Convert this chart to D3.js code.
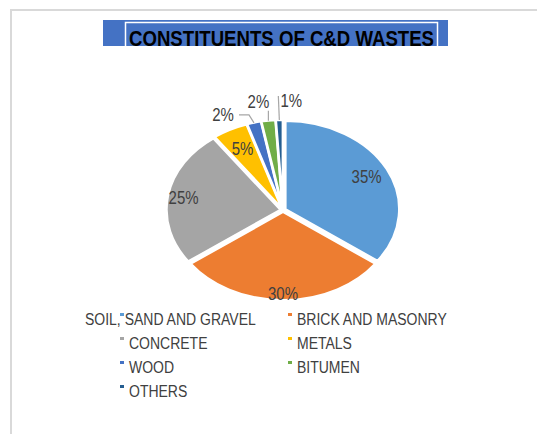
<!DOCTYPE html>
<html>
<head>
<meta charset="utf-8">
<script src="https://cdn.jsdelivr.net/npm/d3@7"></script>
<style>
  body { margin: 0; background: #fff; }
  svg { display: block; }
</style>
</head>
<body>
<script>
// chart data
var categories = ["SOIL, SAND AND GRAVEL", "BRICK AND MASONRY", "CONCRETE", "METALS", "WOOD", "BITUMEN", "OTHERS"];
var values = [35, 30, 25, 5, 2, 2, 1];
var labels = ["35%", "30%", "25%", "5%", "2%", "2%", "1%"];
var colours = ["#5B9BD5", "#ED7D31", "#A5A5A5", "#FFC000", "#4472C4", "#70AD47", "#255E91"];

var w = 537, h = 434;
var cx = 283, cy = 210;
var r = 88, sx = 114 / 88;   // pie is stretched sideways
var explode = 2;
var tall = 1.18;             // text in the original is a bit taller than wide

// label placement: inside labels use a radius factor, the small ones sit outside
var labelRadius = [0.8, 0.93, 0.86, 0.76, null, null, null];
var outside = {
    4: {leader: [[-5, -8], [-15, -8]], text: [-31, -2]},
    5: {leader: [[0, -10]], text: [-10, -13]},
    6: {leader: [[-1, -24]], text: [12, -13]}
};

var svg = d3.select("body")
            .append("svg")
            .attr("width", w)
            .attr("height", h);

// outer frame
svg.append("path")
   .attr("d", "M11,434 V10 H537")
   .attr("fill", "none")
   .attr("stroke", "#d9d9d9")
   .attr("stroke-width", 2);

// title
svg.append("rect")
   .attr("x", 103).attr("y", 20)
   .attr("width", 345).attr("height", 26)
   .attr("fill", "#4472C4");
svg.append("rect")
   .attr("x", 125.5).attr("y", 22.5)
   .attr("width", 312).attr("height", 26)
   .attr("fill", "#4472C4")
   .attr("stroke", "#fff")
   .attr("stroke-width", 1.5);
svg.append("rect")
   .attr("x", 100).attr("y", 46)
   .attr("width", 350).attr("height", 8)
   .attr("fill", "#fff");

var clip = svg.append("clipPath").attr("id", "titleclip");
clip.append("rect").attr("x", 100).attr("y", 15).attr("width", 350).attr("height", 31);

svg.append("text")
   .attr("x", 129)
   .attr("y", 46)
   .attr("clip-path", "url(#titleclip)")
   .attr("textLength", 305)
   .attr("lengthAdjust", "spacingAndGlyphs")
   .style("font-family", "Liberation Sans, Arial, sans-serif")
   .style("font-weight", "bold")
   .style("font-size", "22px")
   .attr("fill", "#000")
   .text("CONSTITUENTS OF C&D WASTES");

// pie
var pie = d3.pie().sort(null).value(function(d){ return d; });
var arcs = pie(values);
var arc = d3.arc().innerRadius(0).outerRadius(r);

function mid(d){ return (d.startAngle + d.endAngle) / 2; }

var g = svg.append("g")
           .attr("transform", "translate(" + cx + "," + cy + ") scale(" + sx + ",1)");

g.selectAll("path")
 .data(arcs)
 .enter()
 .append("path")
 .attr("d", arc)
 .attr("transform", function(d){
     var a = mid(d);
     return "translate(" + (Math.sin(a) * explode) + "," + (-Math.cos(a) * explode) + ")";
 })
 .attr("fill", function(d, i){ return colours[i]; })
 .attr("stroke", "#fff")
 .attr("stroke-width", 2);

// screen position at a radius factor along the slice middle
function point(d, f){
    var a = mid(d);
    return [cx + Math.sin(a) * (r * f + explode) * sx, cy - Math.cos(a) * (r * f + explode)];
}

var labelFont = "Liberation Sans, Arial, sans-serif";

// text drawn at baseline (x, y), stretched upward a little
function tallText(x, y, size, anchor, str){
    return svg.append("text")
       .attr("transform", "translate(" + x + "," + y + ") scale(1," + tall + ")")
       .style("text-anchor", anchor)
       .style("font-family", labelFont)
       .style("font-size", size + "px")
       .attr("fill", "#404040")
       .text(str);
}

arcs.forEach(function(d, i){
    if(labelRadius[i] != null){
        var p = point(d, labelRadius[i]);
        tallText(p[0], p[1] + 6, 15, "middle", labels[i]);
    }
    else{
        var o = outside[i];
        var p = point(d, 1.0);
        var pts = [p].concat(o.leader.map(function(q){ return [p[0] + q[0], p[1] + q[1]]; }));
        svg.append("path")
           .attr("d", d3.line()(pts))
           .attr("fill", "none")
           .attr("stroke", "#A6A6A6")
           .attr("stroke-width", 1.2);
        tallText(p[0] + o.text[0], p[1] + o.text[1], 15, "middle", labels[i]);
    }
});

// legend
var colX = [120, 288];
var rowY = [325, 349, 373, 397];
var legendPos = [[0, 0], [1, 0], [0, 1], [1, 1], [0, 2], [1, 2], [0, 3]];

categories.forEach(function(c, i){
    var col = legendPos[i][0], row = legendPos[i][1];
    var mx = colX[col], my = rowY[row];
    // the long first entry spills to the left, as in the original
    var tx = (i == 0) ? 85 : mx + 9;
    tallText(tx, my, 14, "start", c);
    svg.append("rect")
       .attr("x", mx).attr("y", my - 12)
       .attr("width", 4).attr("height", 3)
       .attr("fill", colours[i]);
});
</script>
</body>
</html>
